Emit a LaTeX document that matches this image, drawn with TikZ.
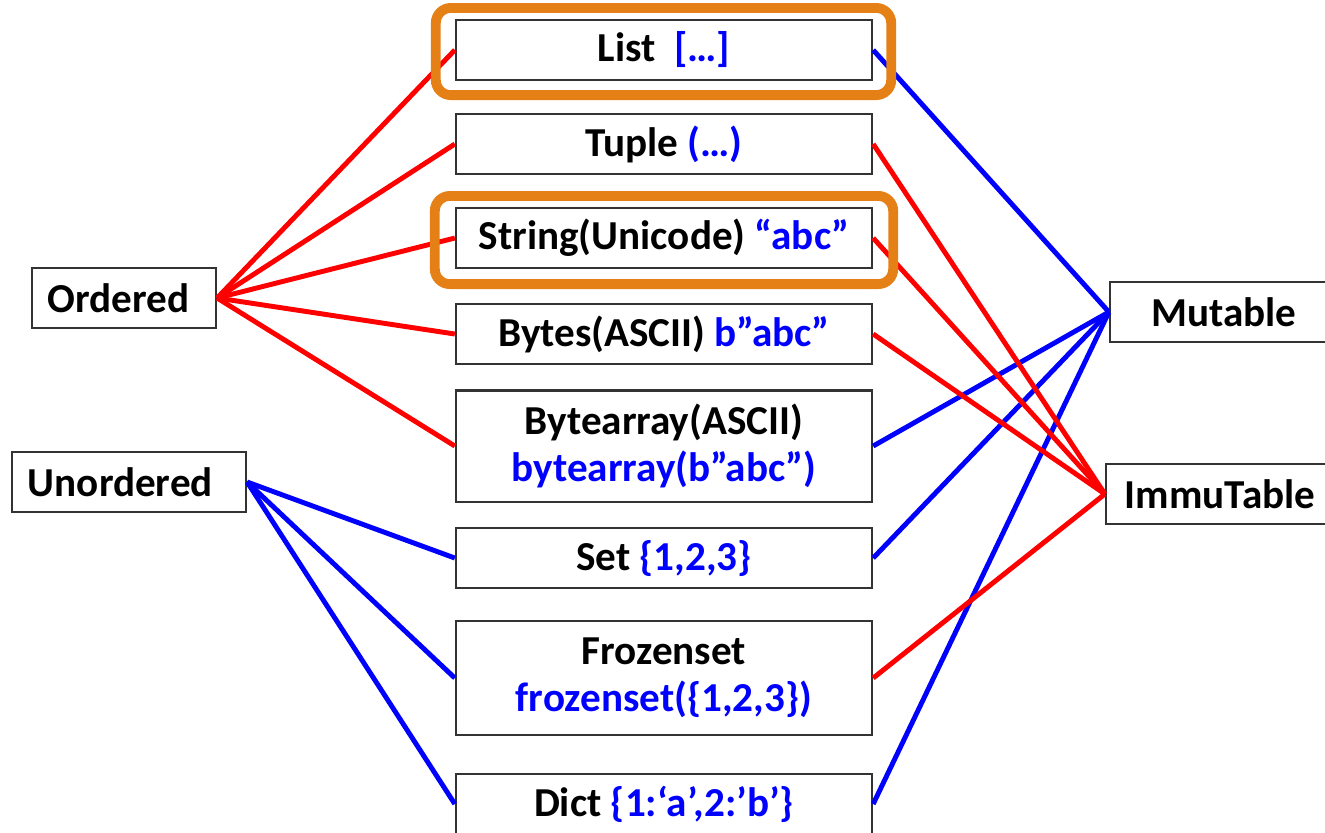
\documentclass[tikz,border=0pt]{standalone}
\usepackage{fontspec}
\setmainfont{Carlito}
\usetikzlibrary{positioning}

\definecolor{hlorange}{RGB}{228,128,22}
\newcommand{\code}[1]{\textcolor{blue}{#1}}

\begin{document}
\begin{tikzpicture}[x=0.01cm,y=-0.01cm,
    font=\fontsize{11.7}{13.5}\selectfont\bfseries,
    typebox/.style={draw=black!80,line width=0.6pt,fill=white,minimum width=4.16cm,
      minimum height=0.6cm,inner sep=0pt,align=center},
    catbox/.style={draw=black!80,line width=0.6pt,fill=white,minimum height=0.6cm,
      inner ysep=0pt,inner xsep=0.16cm,align=left},
    ordline/.style={red,line width=1.4pt},
    unordline/.style={blue,line width=1.4pt},
    hilite/.style={draw=hlorange,line width=2.8pt,rounded corners=0.15cm}]
      \useasboundingbox (0,0) rectangle (1325,832);

      % categories on the left
      \node [catbox,text width=1.52cm] (ordered) at (124,298) {Ordered};
      \node [catbox,text width=2.02cm] (unordered) at (129,482) {Unordered};

      % the types
      \node [typebox] (list) at (664,50) {List\ \ \code{[…]}};
      \node [typebox] (tuple) at (664,144) {Tuple \code{(…)}};
      \node [typebox] (str) at (664,238) {String(Unicode) \code{“abc”}};
      \node [typebox] (bytes) at (664,334) {Bytes(ASCII) \code{b”abc”}};
      \node [typebox,minimum height=1.11cm] (barray) at (664,446) {Bytearray(ASCII)\\\code{bytearray(b”abc”)}};
      \node [typebox] (set) at (664,558) {Set \code{\{1,2,3\}}};
      \node [typebox,minimum height=1.14cm] (fset) at (664,678) {Frozenset\\\code{frozenset(\{1,2,3\})}};
      \node [typebox] (dict) at (664,804) {Dict \code{\{1:‘a’,2:’b’\}}};

      % mutability on the right
      \node [typebox,minimum width=2.28cm] (mutable) at (1224,312) {Mutable};
      \node [typebox,minimum width=2.28cm] (immutable) at (1220,494) {ImmuTable};

      % ordered / unordered
      \foreach \t in {list,tuple,str,bytes,barray}
        \draw [ordline] (ordered.east) -- (\t.west);
      \foreach \t in {set,fset,dict}
        \draw [unordline] (unordered.east) -- (\t.west);

      % mutable / immutable
      \foreach \t in {list,barray,set,dict}
        \draw [unordline] (\t.east) -- (mutable.west);
      \foreach \t in {tuple,str,bytes,fset}
        \draw [ordline] (\t.east) -- (immutable.west);

      % highlights
      \draw [hilite] ([xshift=-0.19cm,yshift=0.11cm]list.north west) rectangle ([xshift=0.18cm,yshift=-0.14cm]list.south east);
      \draw [hilite] ([xshift=-0.20cm,yshift=0.11cm]str.north west) rectangle ([xshift=0.20cm,yshift=-0.15cm]str.south east);
\end{tikzpicture}
\end{document}
